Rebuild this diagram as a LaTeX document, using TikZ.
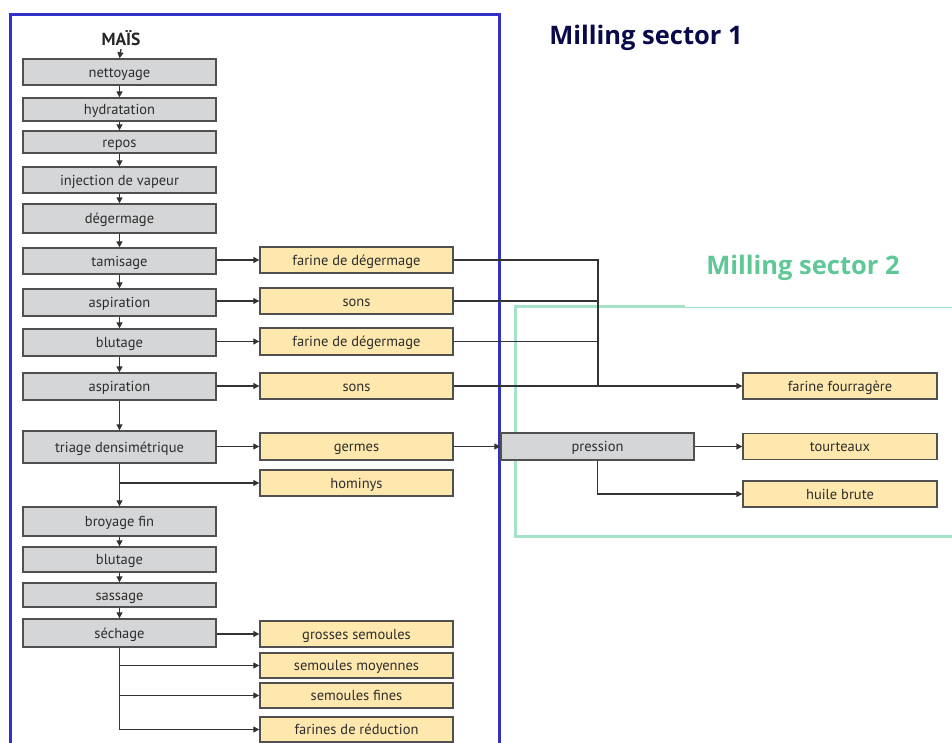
\documentclass[tikz,border=0pt]{standalone}
\usepackage{fontspec}
\setmainfont{PT Sans}
\newfontfamily\titlefont{Open Sans}
\usetikzlibrary{arrows.meta}
\definecolor{gfill}{RGB}{213,214,216}
\definecolor{yfill}{RGB}{254,232,174}
\definecolor{bdr}{RGB}{80,80,80}
\definecolor{txt}{RGB}{45,45,45}
\definecolor{sblue}{RGB}{50,50,200}
\definecolor{sgreen}{RGB}{165,226,200}
\definecolor{tgreen}{RGB}{95,200,150}
\definecolor{tnavy}{RGB}{10,10,75}
\tikzset{
  box/.style={draw=bdr, line width=1.4pt, minimum width=193pt, inner sep=0pt, text height=12pt, text depth=1.5pt, font=\fontsize{14.5}{16}\selectfont, text=txt},
  gbox/.style={box, fill=gfill},
  ybox/.style={box, fill=yfill},
  conn/.style={draw=black!80, line width=1.3pt},
  arr/.style={conn, -{Triangle[length=6pt,width=6pt]}},
  ttl/.style={font=\titlefont\bfseries\fontsize{25.5}{28}\selectfont},
}
\begin{document}
\begin{tikzpicture}[x=1pt,y=-1pt]
\useasboundingbox (0,0) rectangle (952,743);
\clip (0,0) rectangle (952,743);
\fill[white] (0,0) rectangle (952,743);
% sector frames
\draw[sblue, line width=3pt] (10,770) -- (10,15) -- (499,15) -- (499,770);
\draw[sgreen, line width=3pt] (685,306) -- (515,306) -- (515,536) -- (960,536);
\draw[sgreen, line width=1.5pt] (685,307.5) -- (960,307.5);
\node[ttl, text=tnavy] (t1) at (646,38) {Milling sector 1};
\node[ttl, text=tgreen] (t2) at (803,268) {Milling sector 2};
% main column
\node[font=\bfseries\fontsize{17.5}{19}\selectfont, text=black!85] (mais) at (121,38) {MAÏS};
\node[gbox, minimum height=26pt] (n1) at (119.5,72) {nettoyage};
\node[gbox, minimum height=23pt] (n2) at (119.5,109.5) {hydratation};
\node[gbox, minimum height=22pt] (n3) at (119.5,142) {repos};
\node[gbox, minimum height=26pt] (n4) at (119.5,180) {injection de vapeur};
\node[gbox, minimum height=29pt] (n5) at (119.5,218.5) {dégermage};
\node[gbox, minimum height=26pt] (n6) at (119.5,261) {tamisage};
\node[gbox, minimum height=27pt] (n7) at (119.5,302.5) {aspiration};
\node[gbox, minimum height=27pt] (n8) at (119.5,342.5) {blutage};
\node[gbox, minimum height=27pt] (n9) at (119.5,386.5) {aspiration};
\node[gbox, minimum height=32pt] (n10) at (119.5,447) {triage densimétrique};
\node[gbox, minimum height=29pt] (n11) at (119.5,521.5) {broyage fin};
\node[gbox, minimum height=25pt] (n12) at (119.5,559.5) {blutage};
\node[gbox, minimum height=24pt] (n13) at (119.5,595) {sassage};
\node[gbox, minimum height=28pt] (n14) at (119.5,633) {séchage};
% outputs
\node[ybox, minimum height=26pt] (y1) at (356.5,260) {farine de dégermage};
\node[ybox, minimum height=26pt] (y2) at (356.5,301) {sons};
\node[ybox, minimum height=27pt] (y3) at (356.5,341.5) {farine de dégermage};
\node[ybox, minimum height=26pt] (y4) at (356.5,386) {sons};
\node[ybox, minimum height=27pt] (y5) at (356.5,446.5) {germes};
\node[ybox, minimum height=26pt] (y6) at (356.5,483) {hominys};
\node[ybox, minimum height=26pt] (y7) at (356.5,634) {grosses semoules};
\node[ybox, minimum height=25pt] (y8) at (356.5,665.5) {semoules moyennes};
\node[ybox, minimum height=25pt] (y9) at (356.5,695.5) {semoules fines};
\node[ybox, minimum height=25pt] (y10) at (356.5,729.5) {farines de réduction};
% sector 2
\node[ybox, minimum width=194pt, minimum height=26pt] (ff) at (840,386) {farine fourragère};
\node[gbox, minimum height=27pt] (pr) at (597.5,446.5) {pression};
\node[ybox, minimum width=194pt, minimum height=26pt] (tt) at (840,446.5) {tourteaux};
\node[ybox, minimum width=194pt, minimum height=26pt] (hb) at (840,494) {huile brute};
\coordinate (col) at (598,386);
% vertical flow
\draw[arr] (mais.south) -- (n1.north);
\draw[arr] (n1) -- (n2);
\draw[arr] (n2) -- (n3);
\draw[arr] (n3) -- (n4);
\draw[arr] (n4) -- (n5);
\draw[arr] (n5) -- (n6);
\draw[arr] (n6) -- (n7);
\draw[arr] (n7) -- (n8);
\draw[arr] (n8) -- (n9);
\draw[arr] (n9) -- (n10);
\draw[arr] (n10) -- (n11);
\draw[arr] (n11) -- (n12);
\draw[arr] (n12) -- (n13);
\draw[arr] (n13) -- (n14);
% side outputs
\draw[arr] (n6.east |- y1.west) -- (y1.west);
\draw[arr] (n7.east |- y2.west) -- (y2.west);
\draw[arr] (n8.east |- y3.west) -- (y3.west);
\draw[arr] (n9.east |- y4.west) -- (y4.west);
\draw[arr] (n10.east |- y5.west) -- (y5.west);
\draw[arr] (n10.south |- y6.west) -- (y6.west);
\draw[arr] (n14.east |- y7.west) -- (y7.west);
\draw[arr] (n14.south |- y8.west) -- (y8.west);
\draw[arr] (n14.south |- y9.west) -- (y9.west);
\draw[arr] (n14.south) |- (y10.west);
% collector
\draw[conn] (y1.east) -| (col);
\draw[conn] (y2.east) -- (y2.east -| col);
\draw[conn] (y3.east) -- (y3.east -| col);
\draw[arr] (y4.east) -- (ff.west);
\draw[arr] (y5.east) -- (pr.west);
\draw[arr] (pr.east) -- (tt.west);
\draw[arr] (pr.south) |- (hb.west);
\end{tikzpicture}
\end{document}
